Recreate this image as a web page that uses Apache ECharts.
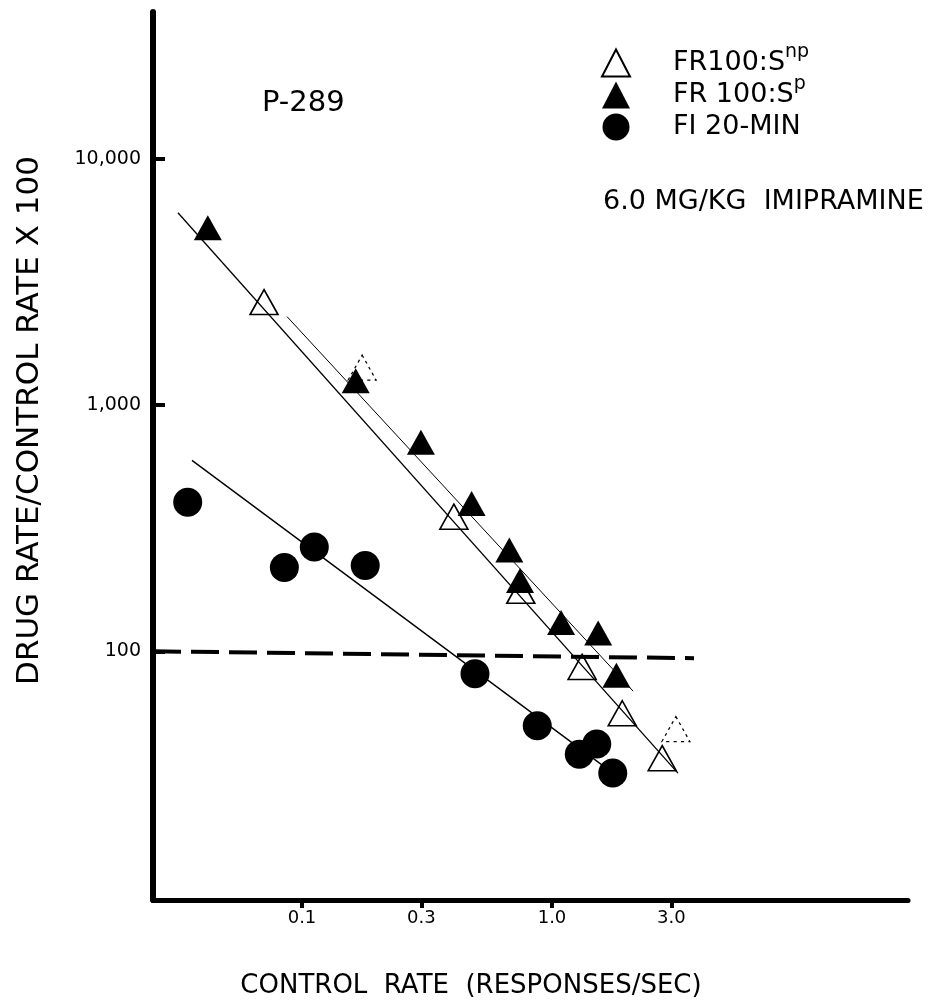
<!DOCTYPE html>
<html><head><meta charset="utf-8">
<script src="https://cdn.jsdelivr.net/npm/echarts@6/dist/echarts.min.js"></script>
<style>html,body{margin:0;padding:0;background:#fff}#chart{width:941px;height:1004px}</style>
</head><body><div id="chart"></div>
<script>
// Control rate (responses/sec) vs drug rate / control rate x 100
const npX = [0.0705, 0.405, 0.75, 1.32, 1.91, 2.76];
const npY = [2618, 352, 176, 86.4, 56, 36.8];
const npFaintX = [0.174, 3.13];
const npFaintY = [1419, 48.3];
const pX = [0.042, 0.164, 0.299, 0.477, 0.675, 0.745, 1.087, 1.53, 1.81];
const pY = [5248, 1256, 706, 398, 258, 194, 131, 118.6, 80];
const fiX = [0.0349, 0.085, 0.112, 0.179, 0.492, 0.873, 1.286, 1.51, 1.75];
const fiY = [403, 219, 265, 223, 81.1, 49.8, 38.2, 42.0, 32.0];
const npFitX = [0.0319, 3.19];
const npFitY = [6039, 32.0];
const pFitX = [0.0871, 2.11];
const pFitY = [2286, 68.9];
const fiFitX = [0.0363, 1.754];
const fiFitY = [596, 32.0];
const refX = [0.02535, 3.70];
const refY = [100, 93.7];
const xTickValues = [0.1, 0.3, 1.0, 3.0];
const xTickLabels = ['0.1', '0.3', '1.0', '3.0'];
const yTickValues = [100, 1000, 10000];
const yTickLabels = ['100', '1,000', '10,000'];
const seriesNames = ['FR100:S^np', 'FR 100:S^p', 'FI 20-MIN'];

const FONT = 'DejaVu Sans';
const pairs = (xs, ys) => xs.map((x, i) => [x, ys[i]]);
const fmt = (vals, labs) => v => {
  for (let i = 0; i < vals.length; i++) {
    if (Math.abs(Math.log10(v) - Math.log10(vals[i])) < 1e-6) return labs[i];
  }
  return '';
};

const chart = echarts.init(document.getElementById('chart'), null, {renderer: 'canvas'});
chart.setOption({
  animation: false,
  backgroundColor: '#fff',
  grid: {left: 153, right: 33, top: 12, bottom: 103},
  xAxis: {
    type: 'log', min: 0.02535, max: 26.55,
    axisLine: {lineStyle: {color: '#000', width: 5}},
    axisTick: {customValues: xTickValues, length: 8, lineStyle: {color: '#000', width: 4}},
    axisLabel: {customValues: xTickValues, formatter: fmt(xTickValues, xTickLabels),
      color: '#000', fontFamily: FONT, fontSize: 18, margin: 9},
    splitLine: {show: false},
    name: 'CONTROL  RATE  (RESPONSES/SEC)', nameLocation: 'middle', nameGap: 73,
    nameTextStyle: {color: '#000', fontFamily: FONT, fontSize: 26, padding: [0, 119, 0, 0]}
  },
  yAxis: {
    type: 'log', min: 9.77, max: 39450,
    axisLine: {lineStyle: {color: '#000', width: 6}},
    axisTick: {customValues: yTickValues, inside: true, length: 12, lineStyle: {color: '#000', width: 4}},
    axisLabel: {customValues: yTickValues, formatter: fmt(yTickValues, yTickLabels),
      color: '#000', fontFamily: FONT, fontSize: 19, margin: 12},
    splitLine: {show: false},
    name: 'DRUG RATE/CONTROL RATE X 100', nameLocation: 'middle', nameGap: 108,
    nameTextStyle: {color: '#000', fontFamily: FONT, fontSize: 31, padding: [0, 0, 0, 71]}
  },
  legend: {
    data: seriesNames, orient: 'vertical', left: 596, top: 38,
    itemWidth: 28, itemHeight: 27, itemGap: -8, selectedMode: false,
    formatter: n => n.replace(/\^(\w+)/, '{sup|$1}'),
    textStyle: {color: '#000', fontFamily: FONT, fontSize: 27, lineHeight: 40, padding: [0, 0, 0, 38],
      rich: {sup: {color: '#000', fontFamily: FONT, fontSize: 19, lineHeight: 19, verticalAlign: 'top'}}}
  },
  graphic: [
    {type: 'text', x: 262, y: 103, style: {text: 'P-289', font: '29px "DejaVu Sans"', fill: '#000', align: 'left', verticalAlign: 'middle'}},
    {type: 'text', x: 603, y: 202, style: {text: '6.0 MG/KG  IMIPRAMINE', font: '27px "DejaVu Sans"', fill: '#000', align: 'left', verticalAlign: 'middle'}}
  ],
  series: [
    {type: 'line', name: 'np fit', data: pairs(npFitX, npFitY), symbol: 'none', silent: true,
      lineStyle: {color: '#000', width: 1.3}, z: 1},
    {type: 'line', name: 'p fit', data: pairs(pFitX, pFitY), symbol: 'none', silent: true,
      lineStyle: {color: '#000', width: 1}, z: 1},
    {type: 'line', name: 'fi fit', data: pairs(fiFitX, fiFitY), symbol: 'none', silent: true,
      lineStyle: {color: '#000', width: 1.4}, z: 1},
    {type: 'line', name: 'reference 100', data: pairs(refX, refY), symbol: 'none', silent: true,
      lineStyle: {color: '#000', width: 4, type: [28, 10]}, z: 1},
    {type: 'scatter', name: seriesNames[0], data: pairs(npX, npY), symbol: 'triangle', symbolSize: [28, 25],
      itemStyle: {color: 'rgba(255,255,255,0)', borderColor: '#000', borderWidth: 1.6, opacity: 1}, z: 3},
    {type: 'scatter', name: 'np faint', data: pairs(npFaintX, npFaintY), symbol: 'triangle', symbolSize: [28, 25],
      itemStyle: {color: 'rgba(255,255,255,0)', borderColor: '#000', borderWidth: 1.2, borderType: [3, 4], opacity: 1}, z: 3},
    {type: 'scatter', name: seriesNames[1], data: pairs(pX, pY), symbol: 'triangle', symbolSize: [28, 25],
      itemStyle: {color: '#000', opacity: 1}, z: 4},
    {type: 'scatter', name: seriesNames[2], data: pairs(fiX, fiY), symbol: 'circle', symbolSize: 29,
      itemStyle: {color: '#000', opacity: 1}, z: 4}
  ]
});
</script></body></html>
